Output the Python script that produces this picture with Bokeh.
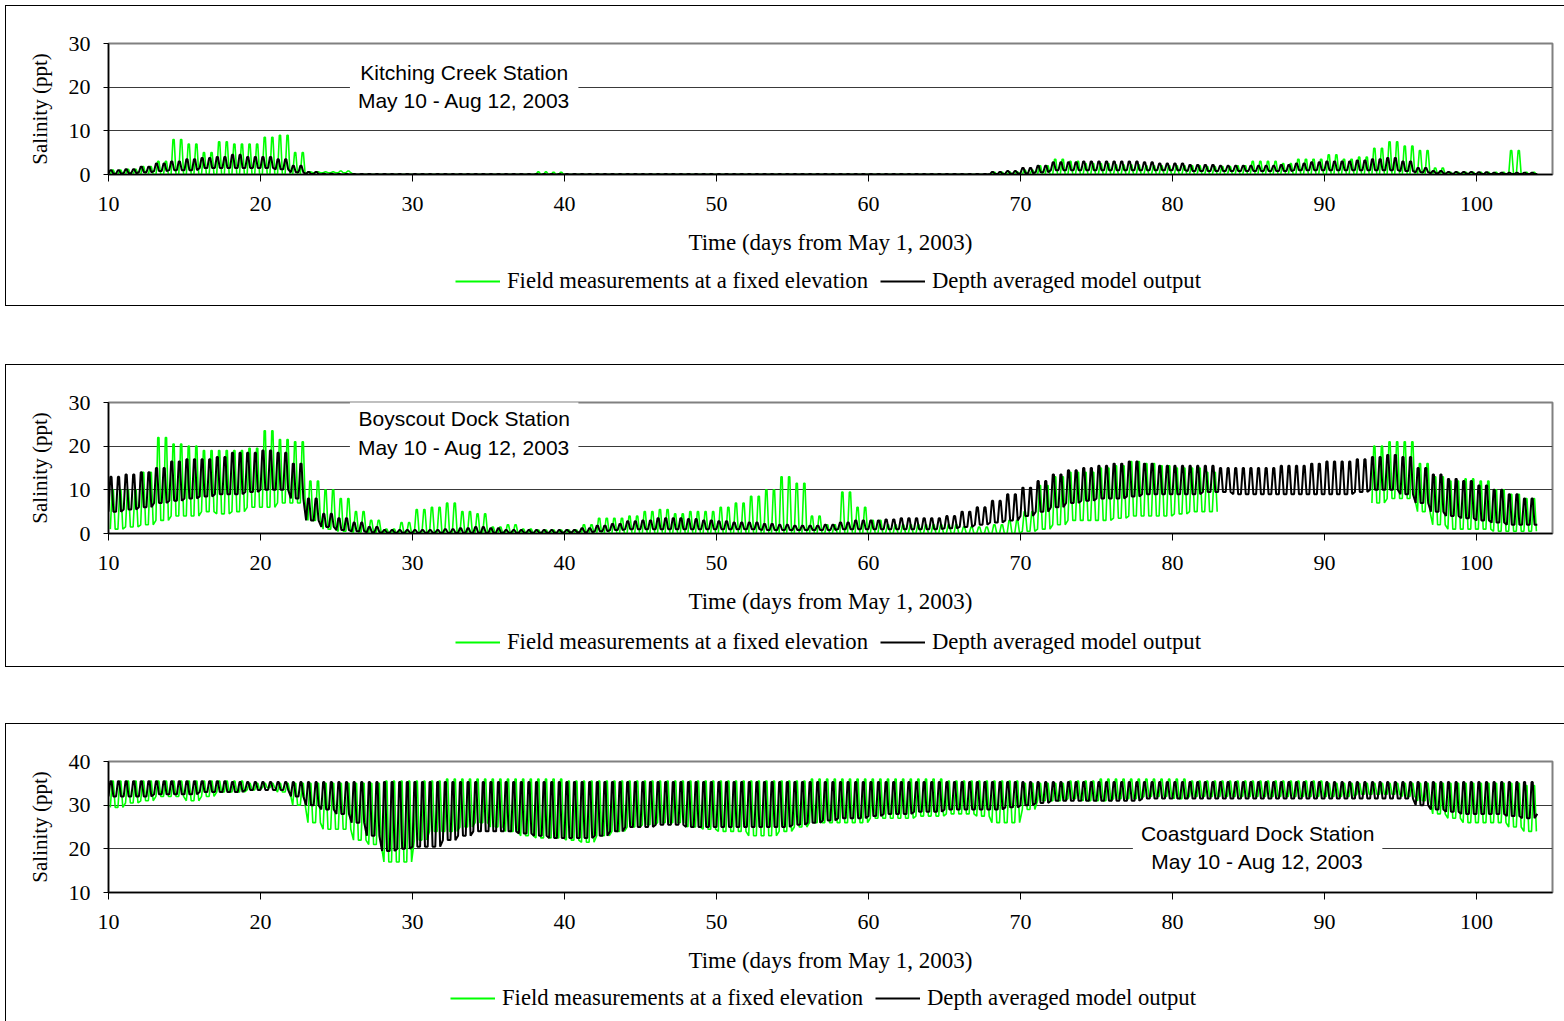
from bokeh.plotting import figure
from bokeh.models import Range1d, FixedTicker, Legend, LegendItem, Label
from bokeh.layouts import column
from bokeh.embed import file_html
from bokeh.resources import INLINE

nan = float("nan")

# ---------------- data (daily tidal high / low values) ----------------
DAYS = list(range(10, 105))
X_TICKS = [10, 20, 30, 40, 50, 60, 70, 80, 90, 100]

# Kitching Creek
KC_F_HI = [1.0, 1.2, 1.8, 3.0, 8.0, 7.0, 5.0, 7.5, 7.0, 7.0,
           8.5, 9.0, 5.0, 0.6, 0.6, 0.8, 0.0, 0.0, 0.0, 0.0,
           0.0, 0.0, 0.0, 0.0, 0.0, 0.0, 0.0, 0.0, 0.6, 0.5,
           0.0, 0.0, 0.0, 0.0, 0.0, 0.0, 0.0, 0.0, 0.0, 0.0,
           0.0, 0.0, 0.0, 0.0, 0.0, 0.0, 0.0, 0.0, 0.0, 0.0,
           0.0, 0.0, 0.0, 0.0, 0.0, 0.0, 0.0, 0.0, 0.5, 0.6,
           1.0, 2.0, 3.5, 3.0, 2.5, 2.5, 2.2, 2.2, 2.0, 2.0,
           2.0, 2.0, 1.8, 1.8, 2.0, 3.0, 3.0, 2.5, 3.5, 3.5,
           4.5, 3.5, 4.0, 6.0, 7.5, 6.5, 5.5, 1.5, 0.5, 0.5,
           0.5, 0.5, 5.5, 0.5, 0.5]
KC_F_LO = [0.0, 0.0, 0.0, 0.0, 0.0, 0.0, 0.0, 0.0, 0.0, 0.0,
           0.0, 0.0, 0.0, 0.4, 0.4, 0.4, 0.0, 0.0, 0.0, 0.0,
           0.0, 0.0, 0.0, 0.0, 0.0, 0.0, 0.0, 0.0, 0.0, 0.0,
           0.0, 0.0, 0.0, 0.0, 0.0, 0.0, 0.0, 0.0, 0.0, 0.0,
           0.0, 0.0, 0.0, 0.0, 0.0, 0.0, 0.0, 0.0, 0.0, 0.0,
           0.0, 0.0, 0.0, 0.0, 0.0, 0.0, 0.0, 0.0, 0.0, 0.0,
           0.0, 0.0, 0.0, 0.0, 0.0, 0.0, 0.0, 0.0, 0.0, 0.0,
           0.0, 0.0, 0.0, 0.0, 0.0, 0.0, 0.0, 0.0, 0.0, 0.0,
           0.0, 0.0, 0.0, 0.0, 0.0, 0.0, 0.0, 0.0, 0.0, 0.0,
           0.0, 0.0, 0.0, 0.0, 0.0]
KC_M_HI = [1.0, 1.2, 1.8, 2.5, 3.0, 3.5, 3.8, 4.0, 4.5, 4.0,
           4.0, 3.5, 2.0, 0.6, 0.2, 0.1, 0.1, 0.1, 0.1, 0.1,
           0.1, 0.1, 0.1, 0.1, 0.1, 0.1, 0.1, 0.1, 0.1, 0.1,
           0.1, 0.1, 0.1, 0.1, 0.1, 0.1, 0.1, 0.1, 0.1, 0.1,
           0.1, 0.1, 0.1, 0.1, 0.1, 0.1, 0.1, 0.1, 0.1, 0.1,
           0.1, 0.1, 0.1, 0.1, 0.1, 0.1, 0.1, 0.1, 0.6, 0.8,
           1.5, 2.0, 2.8, 2.8, 3.0, 3.0, 3.0, 3.0, 2.8, 2.5,
           2.5, 2.2, 2.2, 2.0, 2.0, 2.0, 2.0, 2.2, 2.5, 2.8,
           3.0, 3.0, 3.2, 3.5, 3.8, 3.0, 1.5, 0.8, 0.6, 0.6,
           0.5, 0.4, 0.4, 0.4, 0.4]
KC_M_LO = [0.2, 0.3, 0.5, 0.8, 1.0, 1.0, 1.5, 1.5, 1.5, 1.5,
           1.5, 1.2, 0.5, 0.1, 0.0, 0.0, 0.0, 0.0, 0.0, 0.0,
           0.0, 0.0, 0.0, 0.0, 0.0, 0.0, 0.0, 0.0, 0.0, 0.0,
           0.0, 0.0, 0.0, 0.0, 0.0, 0.0, 0.0, 0.0, 0.0, 0.0,
           0.0, 0.0, 0.0, 0.0, 0.0, 0.0, 0.0, 0.0, 0.0, 0.0,
           0.0, 0.0, 0.0, 0.0, 0.0, 0.0, 0.0, 0.0, 0.1, 0.2,
           0.3, 0.5, 1.0, 1.0, 1.0, 1.0, 1.0, 1.0, 1.0, 1.0,
           1.0, 0.8, 0.8, 0.8, 0.8, 0.8, 0.8, 0.8, 1.0, 1.0,
           1.0, 1.0, 1.0, 1.0, 1.0, 0.8, 0.5, 0.3, 0.2, 0.2,
           0.1, 0.1, 0.1, 0.1, 0.1]

# Boyscout Dock
BD_F_HI = [10.0, 10.0, 14.0, 22.0, 20.5, 20.0, 19.0, 19.0, 19.0, 19.5,
           23.5, 21.5, 21.0, 12.0, 10.0, 8.0, 5.0, 3.0, 1.0, 2.5,
           5.5, 6.0, 7.0, 5.0, 4.5, 1.5, 2.0, 1.0, 0.8, 0.8,
           0.8, 2.0, 3.5, 3.5, 4.0, 5.0, 5.5, 4.5, 5.0, 5.0,
           6.0, 7.0, 8.5, 10.0, 13.0, 11.5, 4.0, 2.0, 9.5, 6.0,
           3.0, 2.0, 2.0, 2.0, 2.0, 2.0, 1.5, 1.5, 2.0, 3.0,
           5.0, 11.0, 13.0, 14.0, 14.0, 15.0, 15.5, 16.5, 16.0, 15.5,
           15.0, 15.0, 14.0, nan, nan, nan, nan, nan, nan, nan,
           nan, nan, nan, 20.0, 21.0, 21.0, 16.0, 13.0, 12.0, 12.5,
           12.0, 10.0, 9.0, 8.0, 7.0]
BD_F_LO = [1.0, 1.5, 2.0, 3.0, 4.0, 4.0, 5.0, 4.5, 5.0, 6.0,
           6.0, 7.0, 7.0, 3.0, 1.0, 0.5, 0.3, 0.2, 0.0, 0.0,
           0.0, 0.0, 0.0, 0.0, 0.0, 0.0, 0.0, 0.0, 0.0, 0.0,
           0.0, 0.0, 0.0, 0.0, 0.0, 0.0, 0.0, 0.0, 0.0, 0.0,
           0.0, 0.0, 0.0, 0.0, 0.0, 0.0, 0.0, 0.0, 0.0, 0.0,
           0.0, 0.0, 0.0, 0.0, 0.0, 0.0, 0.0, 0.0, 0.0, 0.0,
           0.5, 1.0, 2.0, 3.0, 3.0, 3.0, 3.5, 4.0, 4.0, 4.0,
           4.5, 5.0, 5.0, nan, nan, nan, nan, nan, nan, nan,
           nan, nan, nan, 7.0, 8.0, 8.0, 5.0, 2.0, 1.0, 1.0,
           1.0, 0.5, 0.5, 0.5, 0.5]
BD_M_HI = [13.0, 13.5, 14.0, 15.0, 16.5, 17.0, 17.0, 17.5, 18.5, 18.5,
           19.0, 18.5, 16.0, 8.0, 4.5, 3.5, 2.5, 1.5, 0.8, 0.8,
           0.8, 0.8, 1.0, 1.2, 1.5, 1.2, 0.8, 0.8, 0.8, 0.8,
           0.8, 1.2, 1.8, 2.2, 2.8, 3.0, 3.5, 3.5, 3.3, 3.0,
           2.8, 2.5, 2.5, 2.2, 2.0, 1.8, 1.8, 2.0, 2.5, 3.0,
           3.0, 3.2, 3.5, 3.5, 3.5, 4.0, 5.0, 6.0, 7.5, 9.0,
           10.5, 12.0, 13.5, 14.5, 15.0, 15.5, 16.0, 16.5, 16.0, 15.5,
           15.5, 15.5, 15.5, 15.0, 15.0, 15.0, 15.0, 15.5, 15.5, 16.0,
           16.5, 16.5, 17.0, 17.5, 18.0, 17.5, 15.0, 13.5, 12.5, 12.0,
           11.0, 10.0, 9.0, 8.0, 7.5]
BD_M_LO = [5.0, 5.5, 6.0, 7.0, 7.5, 8.0, 8.5, 9.0, 9.0, 9.5,
           10.0, 10.0, 8.0, 3.0, 1.5, 0.8, 0.5, 0.3, 0.2, 0.2,
           0.2, 0.2, 0.2, 0.2, 0.2, 0.2, 0.2, 0.2, 0.2, 0.2,
           0.3, 0.3, 0.5, 0.8, 1.0, 1.0, 1.0, 1.0, 1.0, 1.0,
           1.0, 1.0, 1.0, 0.8, 0.8, 0.8, 0.8, 0.8, 1.0, 1.0,
           1.0, 1.0, 1.0, 1.0, 1.0, 1.2, 1.5, 2.0, 2.5, 3.0,
           4.0, 5.0, 6.0, 7.0, 7.5, 8.0, 8.0, 8.5, 9.0, 9.0,
           9.0, 9.0, 9.5, 9.5, 9.0, 9.0, 9.0, 9.0, 9.0, 9.0,
           9.0, 9.0, 9.5, 10.0, 10.0, 9.0, 7.0, 5.0, 4.0, 3.5,
           3.0, 2.5, 2.0, 2.0, 2.0]

# Coastguard Dock
CG_F_HI = [35.5, 35.5, 35.5, 35.5, 35.5, 35.5, 35.5, 35.5, 35.5, 35.0,
           35.0, 35.0, 35.0, 35.0, 35.0, 35.0, 35.0, 35.0, 35.5, 35.5,
           35.5, 35.5, 36.0, 36.0, 36.0, 36.0, 36.0, 36.0, 36.0, 36.0,
           35.5, 35.5, 35.5, 35.5, 35.5, 35.5, 35.5, 35.5, 35.5, 35.5,
           35.5, 35.5, 35.5, 35.5, 35.5, 35.5, 36.0, 36.0, 36.0, 36.0,
           36.0, 36.0, 36.0, 36.0, 36.0, 35.5, 35.5, 35.5, 35.5, 35.5,
           35.0, 35.0, 35.0, 35.5, 35.5, 36.0, 36.0, 36.0, 36.0, 36.0,
           36.0, 35.5, 35.5, 35.5, 35.5, 35.5, 35.5, 35.5, 35.5, 35.5,
           35.0, 35.0, 35.0, 35.0, 35.0, 35.0, 35.0, 35.0, 35.0, 35.0,
           35.0, 35.0, 35.0, 34.5, 34.0]
CG_F_LO = [29.5, 30.5, 31.0, 32.0, 32.0, 31.0, 32.0, 33.0, 33.0, 33.5,
           34.0, 33.0, 30.0, 26.0, 24.5, 24.5, 22.0, 21.0, 17.0, 17.0,
           22.0, 24.0, 24.0, 25.0, 26.0, 25.0, 24.0, 23.0, 22.5, 22.5,
           22.0, 21.5, 23.0, 24.0, 25.0, 25.5, 26.0, 26.0, 25.0, 24.5,
           24.0, 24.0, 23.0, 23.0, 24.0, 25.0, 26.0, 26.0, 26.0, 26.0,
           27.0, 27.0, 27.0, 27.5, 27.5, 28.0, 28.0, 27.5, 26.0, 26.0,
           29.0, 31.0, 31.0, 31.5, 31.0, 31.0, 31.5, 31.5, 32.0, 32.0,
           31.5, 32.0, 32.0, 32.0, 32.0, 32.0, 32.0, 32.0, 32.0, 32.0,
           32.0, 32.0, 32.5, 32.5, 32.5, 32.0, 31.0, 28.0, 27.0, 26.0,
           26.0, 26.0, 25.0, 24.0, 28.0]
CG_M_HI = [35.5, 35.5, 35.5, 35.5, 35.5, 35.5, 35.5, 35.5, 35.3, 35.3,
           35.3, 35.3, 35.3, 35.3, 35.3, 35.3, 35.3, 35.3, 35.3, 35.3,
           35.3, 35.3, 35.3, 35.3, 35.3, 35.3, 35.3, 35.3, 35.3, 35.3,
           35.3, 35.3, 35.3, 35.3, 35.3, 35.3, 35.3, 35.3, 35.3, 35.3,
           35.3, 35.3, 35.3, 35.3, 35.3, 35.3, 35.3, 35.3, 35.3, 35.3,
           35.3, 35.3, 35.3, 35.3, 35.3, 35.3, 35.3, 35.3, 35.3, 35.3,
           35.3, 35.3, 35.3, 35.3, 35.3, 35.3, 35.3, 35.3, 35.3, 35.3,
           35.3, 35.3, 35.3, 35.3, 35.3, 35.3, 35.3, 35.3, 35.3, 35.3,
           35.3, 35.3, 35.3, 35.3, 35.3, 35.3, 35.3, 35.3, 35.3, 35.3,
           35.3, 35.3, 35.3, 35.3, 35.5]
CG_M_LO = [32.0, 32.0, 32.0, 32.5, 32.5, 32.5, 33.0, 33.0, 33.0, 33.5,
           33.5, 33.5, 32.0, 30.0, 29.0, 28.0, 26.0, 23.0, 19.5, 20.0,
           20.5, 20.5, 22.0, 23.0, 24.0, 24.0, 24.0, 23.5, 23.0, 22.5,
           22.5, 22.5, 23.0, 24.0, 25.0, 25.0, 25.5, 25.5, 25.0, 25.0,
           25.0, 25.0, 25.0, 25.0, 25.0, 25.5, 26.0, 26.5, 27.0, 27.0,
           27.5, 28.0, 28.0, 28.5, 28.5, 29.0, 29.0, 29.0, 29.0, 29.5,
           30.0, 30.5, 31.0, 31.0, 31.0, 31.0, 31.0, 31.0, 31.5, 31.5,
           31.5, 31.5, 31.5, 31.5, 31.5, 31.5, 31.5, 31.5, 31.5, 31.5,
           31.5, 31.5, 31.5, 31.5, 31.5, 31.5, 30.0, 29.0, 28.5, 28.0,
           28.0, 28.0, 27.5, 27.0, 28.0]

LEGEND_FIELD = "Field measurements at a fixed elevation"
LEGEND_MODEL = "Depth averaged model output"
X_LABEL = "Time (days from May 1, 2003)"
Y_LABEL = "Salinity (ppt)"

GREEN = "#00FF00"
SERIF = "Liberation Serif"
SANS = "Liberation Sans"
BORDER = "1.5px solid black"


def tide_series(days, hi, lo, shift):
    """Two tides per day: each half day goes low -> high (short plateau) -> low."""
    xs, ys = [], []
    for d, h, l in zip(days, hi, lo):
        for half in (0.0, 0.5):
            t = d + half + shift
            for dt, v in ((0.0, l), (0.12, h), (0.2, h), (0.32, l)):
                if t + dt <= 104.05:
                    xs.append(t + dt)
                    ys.append(v)
    return xs, ys


def panel(title, yr, yticks, f_hi, f_lo, m_hi, m_lo, lab_x, lab_y,
          leg_height, top_margin, leg_x, leg_y):
    main_h = 262
    p = figure(width=1560, height=main_h, output_backend="svg", toolbar_location=None,
               x_range=Range1d(10, 105), y_range=Range1d(*yr),
               min_border_left=102, min_border_right=14, min_border_top=37,
               min_border_bottom=main_h - 37 - 131,
               styles={"border-top": BORDER, "border-left": BORDER, "border-right": BORDER,
                       "box-sizing": "border-box"})
    p.margin = (top_margin, 0, 0, 5)
    p.outline_line_color = "#808080"
    p.outline_line_width = 2
    p.background_fill_color = "white"
    p.border_fill_color = "white"
    p.xgrid.visible = False
    p.ygrid.ticker = FixedTicker(ticks=yticks)
    p.ygrid.grid_line_color = "#3a3a3a"
    p.ygrid.grid_line_width = 1

    fx, fy = tide_series(DAYS, f_hi, f_lo, 0.12)
    mx, my = tide_series(DAYS, m_hi, m_lo, 0.0)
    p.line(fx, fy, line_color=GREEN, line_width=1.6)
    p.line(mx, my, line_color="black", line_width=2.0)

    for ax in (p.xaxis[0], p.yaxis[0]):
        ax.axis_line_color = "black"
        ax.axis_line_width = 1.5
        ax.major_tick_line_color = "black"
        ax.major_tick_in = 0
        ax.minor_tick_line_color = None
        ax.major_label_text_font = SERIF
        ax.major_label_text_font_size = "22px"
        ax.major_label_text_color = "black"
        ax.axis_label_text_font = SERIF
        ax.axis_label_text_font_size = "23px"
        ax.axis_label_text_font_style = "normal"
        ax.axis_label_text_color = "black"
    p.yaxis.axis_label_text_font_size = "21px"
    p.xaxis.ticker = FixedTicker(ticks=X_TICKS)
    p.yaxis.ticker = FixedTicker(ticks=yticks)
    p.xaxis.major_tick_out = 7
    p.yaxis.major_tick_out = 5
    p.xaxis.major_label_standoff = 15
    p.yaxis.major_label_standoff = 13
    p.xaxis.axis_label = X_LABEL
    p.yaxis.axis_label = Y_LABEL
    p.xaxis.axis_label_standoff = 16
    p.yaxis.axis_label_standoff = 14

    lab = Label(x=lab_x, y=lab_y, x_units="data", y_units="data", text=title,
                text_align="center", text_baseline="middle",
                text_font=SANS, text_font_size="21px", text_color="black",
                text_line_height=1.25,
                background_fill_color="white", padding=8)
    p.add_layout(lab)

    # legend strip under the chart, inside the same bordered box
    q = figure(width=1560, height=leg_height, output_backend="svg", toolbar_location=None,
               x_axis_type=None, y_axis_type=None,
               x_range=Range1d(0, 1), y_range=Range1d(0, 1),
               min_border_left=0, min_border_right=0, min_border_top=0, min_border_bottom=0,
               styles={"border-bottom": BORDER, "border-left": BORDER, "border-right": BORDER,
                       "box-sizing": "border-box"})
    q.margin = (0, 0, 0, 5)
    q.outline_line_color = None
    q.grid.visible = False
    q.background_fill_color = "white"
    q.border_fill_color = "white"
    # same series as the chart; they lie outside this strip's ranges, only their legend swatches show
    lg = q.line(fx, fy, line_color=GREEN, line_width=2)
    lb = q.line(mx, my, line_color="black", line_width=2)
    legend = Legend(items=[LegendItem(label=LEGEND_FIELD, renderers=[lg]),
                           LegendItem(label=LEGEND_MODEL, renderers=[lb])],
                    orientation="horizontal", location=(leg_x, leg_y))
    legend.label_text_font = SERIF
    legend.label_text_font_size = "22.7px"
    legend.label_text_color = "black"
    legend.glyph_width = 45
    legend.glyph_height = 20
    legend.label_standoff = 7
    legend.spacing = 12
    legend.padding = 0
    legend.margin = 0
    legend.border_line_color = None
    legend.background_fill_alpha = 0
    q.add_layout(legend)
    return column(p, q, spacing=0)


c1 = panel("Kitching Creek Station\nMay 10 - Aug 12, 2003", (0, 30), [0, 10, 20, 30],
           KC_F_HI, KC_F_LO, KC_M_HI, KC_M_LO, 33.4, 20.15, 39, 5, 347, 12)
c2 = panel("Boyscout Dock Station\nMay 10 - Aug 12, 2003", (0, 30), [0, 10, 20, 30],
           BD_F_HI, BD_F_LO, BD_M_HI, BD_M_LO, 33.4, 23.1, 41, 58, 347, 12)
c3 = panel("Coastguard Dock Station\nMay 10 - Aug 12, 2003", (10, 40), [10, 20, 30, 40],
           CG_F_HI, CG_F_LO, CG_M_HI, CG_M_LO, 85.6, 20.3, 41, 56, 342, 15)

layout = column(c1, c2, c3, spacing=0)
open("out.html", "w").write(file_html(layout, INLINE))
